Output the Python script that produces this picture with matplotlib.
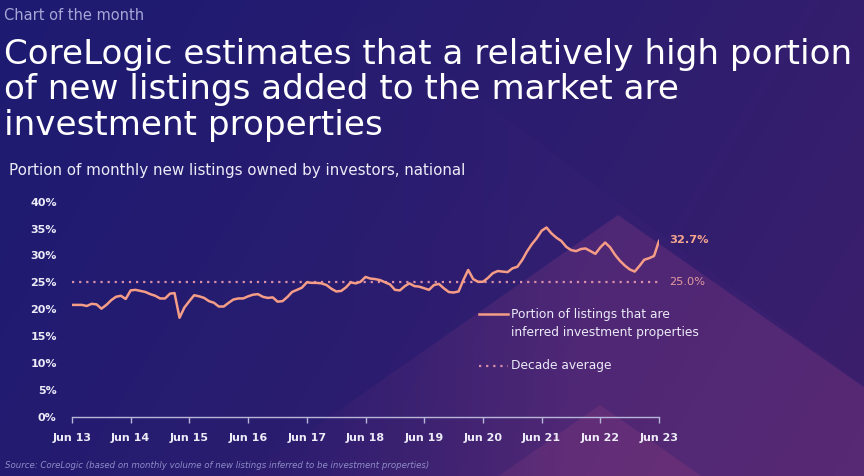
import numpy as np
import pandas as pd
import matplotlib
matplotlib.use("Agg")
import matplotlib.pyplot as plt
from matplotlib.lines import Line2D
from matplotlib.patches import Polygon
from matplotlib.colors import to_rgb

# ---------------- data ----------------
values = [
    20.8, 20.8, 20.8, 20.6, 21.0, 20.9, 20.1, 20.8, 21.7, 22.3, 22.5, 21.9,
    23.5, 23.6, 23.4, 23.2, 22.8, 22.5, 22.0, 22.0, 22.9, 23.0, 18.4, 20.3,
    21.5, 22.6, 22.4, 22.1, 21.5, 21.2, 20.5, 20.5, 21.2, 21.8, 22.0, 22.0,
    22.4, 22.7, 22.8, 22.3, 22.1, 22.2, 21.4, 21.5, 22.3, 23.2, 23.6, 24.0,
    25.0, 24.9, 24.9, 24.8, 24.5, 23.8, 23.3, 23.4, 24.1, 25.0, 24.8, 25.1,
    26.0, 25.7, 25.6, 25.4, 25.0, 24.6, 23.6, 23.5, 24.3, 24.8, 24.3, 24.2,
    23.9, 23.6, 24.5, 24.7, 23.9, 23.2, 23.1, 23.3, 25.5, 27.3, 25.6, 25.1,
    25.1, 25.8, 26.7, 27.1, 27.0, 26.9, 27.6, 27.9, 29.2, 30.7, 32.1, 33.2,
    34.6, 35.2, 34.1, 33.3, 32.7, 31.6, 31.0, 30.8, 31.2, 31.3, 30.8, 30.3,
    31.5, 32.4, 31.5, 30.1, 29.0, 28.1, 27.4, 27.0, 28.1, 29.2, 29.5, 29.9,
    32.7,
]
dates = pd.date_range("2013-06-01", periods=len(values), freq="MS")
decade_avg = 25.0
last_label = "32.7%"
avg_label = "25.0%"
tick_dates = pd.date_range("2013-06-01", "2023-06-01", freq="12MS")
tick_labels = ["Jun 13", "Jun 14", "Jun 15", "Jun 16", "Jun 17", "Jun 18",
               "Jun 19", "Jun 20", "Jun 21", "Jun 22", "Jun 23"]
yticks = [0, 5, 10, 15, 20, 25, 30, 35, 40]
ytick_labels = [f"{v}%" for v in yticks]

title = ("CoreLogic estimates that a relatively high portion\n"
         "of new listings added to the market are\n"
         "investment properties")
kicker = "Chart of the month"
subtitle = "Portion of monthly new listings owned by investors, national"
source = "Source: CoreLogic (based on monthly volume of new listings inferred to be investment properties)"
legend_line = "Portion of listings that are\ninferred investment properties"
legend_avg = "Decade average"

# ---------------- style ----------------
W, H = 864, 476
FONT = "DejaVu Sans"
LINE_C = "#f59d86"
AVG_C = "#d98fa8"
TXT_C = "#ecebf7"

fig = plt.figure(figsize=(W / 100, H / 100), dpi=100)

# background gradient
bg = fig.add_axes([0, 0, 1, 1], zorder=-10)
nx, ny = 300, 170
xx, yy = np.meshgrid(np.linspace(0, 1, nx), np.linspace(0, 1, ny))
t = np.clip(0.75 * xx + 0.25 * yy, 0, 1) ** 1.2
c0 = np.array(to_rgb("#1d1b72"))
c1 = np.array(to_rgb("#3d1f6c"))
img = c0[None, None, :] * (1 - t[..., None]) + c1[None, None, :] * t[..., None]
bg.imshow(img, extent=[0, W, H, 0], aspect="auto", interpolation="bilinear")
bg.set_xlim(0, W)
bg.set_ylim(H, 0)
bg.axis("off")

# faded pink overlay, stronger toward the right
ov_alpha = np.clip((xx * W - 250) / 330, 0.15, 1.0)


def tri(apex_x, apex_y, slope, color, alpha):
    dy = H + 50 - apex_y
    dx = dy / slope
    p = Polygon([[apex_x, apex_y], [apex_x - dx, H + 50], [apex_x + dx, H + 50]],
                closed=True, facecolor="none", edgecolor="none")
    bg.add_patch(p)
    rgba = np.zeros((ny, nx, 4))
    rgba[..., :3] = to_rgb(color)
    rgba[..., 3] = alpha * ov_alpha
    im = bg.imshow(rgba, extent=[0, W, H, 0], aspect="auto",
                   interpolation="bilinear")
    im.set_clip_path(p)


tri(375, 20, 0.75, "#7a3aa0", 0.05)
tri(618, 215, 0.70, "#b04a8a", 0.22)
tri(600, 405, 0.70, "#c0508a", 0.17)
bg.set_xlim(0, W)
bg.set_ylim(H, 0)

# ---------------- main axes ----------------
left, right = 72 / W, 659 / W
bottom, top = 1 - 416.7 / H, 1 - 201.7 / H
ax = fig.add_axes([left, bottom, right - left, top - bottom])
ax.patch.set_alpha(0)

ax.plot(dates, values, color=LINE_C, lw=1.8, solid_joinstyle="round", zorder=3)
ax.axhline(decade_avg, color=AVG_C, lw=1.6, ls=(0, (1, 2.2)), zorder=2)

ax.set_xlim(dates[0], dates[-1])
ax.set_ylim(0, 40)
ax.set_yticks(yticks)
ax.set_yticklabels(ytick_labels)
ax.set_xticks(tick_dates)
ax.set_xticklabels(tick_labels)

for s in ["top", "right", "left"]:
    ax.spines[s].set_visible(False)
ax.spines["bottom"].set_color("#b8b6d8")
ax.spines["bottom"].set_linewidth(1.0)
ax.tick_params(axis="y", length=0, pad=11, labelsize=8, labelcolor=TXT_C)
ax.tick_params(axis="x", length=4, width=1, color="#b8b6d8", pad=8,
               labelsize=8, labelcolor=TXT_C)
for lab in ax.get_xticklabels() + ax.get_yticklabels():
    lab.set_fontfamily(FONT)
    lab.set_fontweight("bold")

# end labels
ax.annotate(last_label, xy=(dates[-1], values[-1]), xytext=(7, 1),
            textcoords="offset points", ha="left", va="center",
            color="#f4a58e", fontsize=8.2, fontweight="bold", family=FONT,
            annotation_clip=False)
ax.annotate(avg_label, xy=(dates[-1], decade_avg), xytext=(7, 0),
            textcoords="offset points", ha="left", va="center",
            color="#e59aa0", fontsize=8.2, family=FONT, annotation_clip=False)

# legend (manual)
fig.lines.append(Line2D([479 / W, 508 / W], [1 - 314 / H] * 2, color=LINE_C,
                        lw=1.8, transform=fig.transFigure))
fig.text(511 / W, 1 - 323.5 / H, legend_line, ha="left", va="center",
         color=TXT_C, fontsize=8.8, family=FONT, linespacing=1.5)
fig.lines.append(Line2D([479 / W, 508 / W], [1 - 366 / H] * 2, color=AVG_C,
                        lw=1.6, ls=(0, (1, 2.2)), transform=fig.transFigure))
fig.text(511 / W, 1 - 366 / H, legend_avg, ha="left", va="center",
         color=TXT_C, fontsize=8.8, family=FONT)

# texts
fig.text(4 / W, 1 - 15 / H, kicker, ha="left", va="center", color="#a7a6d6",
         fontsize=10.5, family=FONT)
fig.text(4 / W, 1 - 90 / H, title, ha="left", va="center", color="white",
         fontsize=24.6, family=FONT, linespacing=1.1)
fig.text(9 / W, 1 - 170 / H, subtitle, ha="left", va="center", color=TXT_C,
         fontsize=10.9, family=FONT)
fig.text(5 / W, 1 - 466 / H, source, ha="left", va="center", color="#8d8cc6",
         fontsize=6.2, family=FONT, style="italic")

fig.savefig("out.png", dpi=100)
